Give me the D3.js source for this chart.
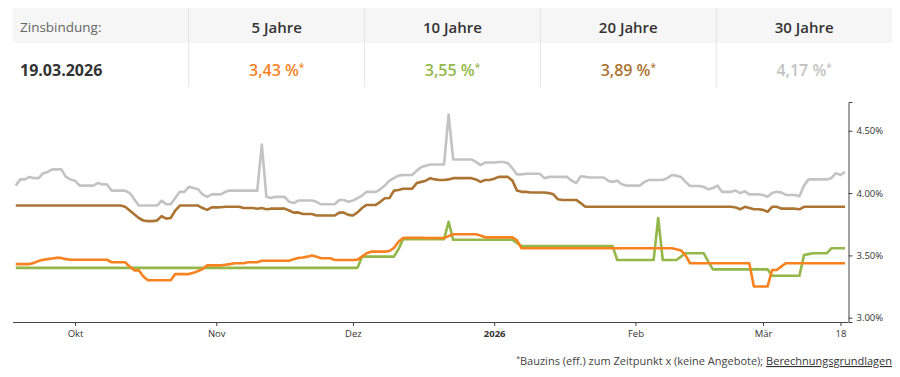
<!DOCTYPE html>
<html>
<head>
<meta charset="utf-8">
<script src="https://cdn.jsdelivr.net/npm/d3@7"></script>
<style>
  body { margin: 0; background: #fff; font-family: "Open Sans", sans-serif; }
</style>
</head>
<body>
<div id="chart"></div>
<script>
// first and last day of the daily series
var startDay = new Date(2025, 8, 18);
var endDay = new Date(2026, 2, 19);

// column headings and current values
var terms = ["5 Jahre", "10 Jahre", "20 Jahre", "30 Jahre"];
var current = ["3,43 %", "3,55 %", "3,89 %", "4,17 %"];
var colors = ["#f7821f", "#93b748", "#ab7433", "#c3c3c3"];

// x ticks
var tickDates = [new Date(2025, 9, 1), new Date(2025, 10, 1), new Date(2025, 11, 1),
                 new Date(2026, 0, 1), new Date(2026, 1, 1), new Date(2026, 2, 1), new Date(2026, 2, 18)];
var tickLabels = ["Okt", "Nov", "Dez", "2026", "Feb", "Mär", "18"];
var yTicks = [3.0, 3.5, 4.0, 4.5];

// daily values, Sep 18 2025 .. Mar 19 2026 (10 per row)
var rate5 = [
  3.43, 3.43, 3.43, 3.43, 3.44, 3.455, 3.465, 3.47, 3.475, 3.48,
  3.48, 3.47, 3.465, 3.465, 3.465, 3.465, 3.465, 3.465, 3.465, 3.465,
  3.465, 3.445, 3.445, 3.445, 3.445, 3.41, 3.38, 3.38, 3.33, 3.30,
  3.30, 3.30, 3.30, 3.30, 3.30, 3.35, 3.35, 3.35, 3.35, 3.36,
  3.375, 3.39, 3.42, 3.42, 3.42, 3.42, 3.425, 3.43, 3.437, 3.437,
  3.437, 3.445, 3.445, 3.445, 3.457, 3.457, 3.457, 3.457, 3.457, 3.457,
  3.457, 3.47, 3.48, 3.483, 3.49, 3.50, 3.49, 3.477, 3.477, 3.477,
  3.463, 3.463, 3.463, 3.463, 3.463, 3.466, 3.49, 3.517, 3.53, 3.53,
  3.53, 3.53, 3.535, 3.56, 3.61, 3.64, 3.642, 3.642, 3.642, 3.642,
  3.64, 3.64, 3.64, 3.64, 3.64, 3.655, 3.67, 3.67, 3.67, 3.67,
  3.67, 3.67, 3.66, 3.645, 3.645, 3.645, 3.645, 3.645, 3.645, 3.645,
  3.62, 3.557, 3.557, 3.557, 3.557, 3.557, 3.557, 3.557, 3.557, 3.557,
  3.557, 3.557, 3.557, 3.557, 3.557, 3.557, 3.557, 3.557, 3.557, 3.557,
  3.557, 3.557, 3.557, 3.557, 3.557, 3.557, 3.557, 3.557, 3.557, 3.557,
  3.557, 3.557, 3.557, 3.557, 3.557, 3.55, 3.54, 3.50, 3.437, 3.437,
  3.437, 3.437, 3.437, 3.437, 3.437, 3.437, 3.437, 3.437, 3.437, 3.437,
  3.437, 3.437, 3.25, 3.25, 3.25, 3.25, 3.383, 3.383, 3.41, 3.437,
  3.437, 3.437, 3.437, 3.437, 3.437, 3.437, 3.437, 3.437, 3.437, 3.437,
  3.437, 3.437, 3.437
];
var rate10 = [
  3.40, 3.40, 3.40, 3.40, 3.40, 3.40, 3.40, 3.40, 3.40, 3.40,
  3.40, 3.40, 3.40, 3.40, 3.40, 3.40, 3.40, 3.40, 3.40, 3.40,
  3.40, 3.40, 3.40, 3.40, 3.40, 3.40, 3.40, 3.40, 3.40, 3.40,
  3.40, 3.40, 3.40, 3.40, 3.40, 3.40, 3.40, 3.40, 3.40, 3.40,
  3.40, 3.40, 3.40, 3.40, 3.40, 3.40, 3.40, 3.40, 3.40, 3.40,
  3.40, 3.40, 3.40, 3.40, 3.40, 3.40, 3.40, 3.40, 3.40, 3.40,
  3.40, 3.40, 3.40, 3.40, 3.40, 3.40, 3.40, 3.40, 3.40, 3.40,
  3.40, 3.40, 3.40, 3.40, 3.40, 3.40, 3.49, 3.49, 3.49, 3.49,
  3.49, 3.49, 3.49, 3.49, 3.55, 3.63, 3.63, 3.63, 3.63, 3.63,
  3.63, 3.63, 3.63, 3.63, 3.63, 3.77, 3.625, 3.625, 3.625, 3.625,
  3.625, 3.625, 3.625, 3.625, 3.625, 3.625, 3.625, 3.625, 3.625, 3.625,
  3.60, 3.575, 3.575, 3.575, 3.575, 3.575, 3.575, 3.575, 3.575, 3.575,
  3.575, 3.575, 3.575, 3.575, 3.575, 3.575, 3.575, 3.575, 3.575, 3.575,
  3.575, 3.575, 3.463, 3.463, 3.463, 3.463, 3.463, 3.463, 3.463, 3.463,
  3.463, 3.80, 3.463, 3.463, 3.463, 3.463, 3.49, 3.517, 3.517, 3.517,
  3.517, 3.517, 3.45, 3.388, 3.388, 3.388, 3.388, 3.388, 3.388, 3.388,
  3.388, 3.388, 3.388, 3.388, 3.388, 3.388, 3.337, 3.337, 3.337, 3.337,
  3.337, 3.337, 3.337, 3.503, 3.51, 3.517, 3.517, 3.517, 3.517, 3.557,
  3.557, 3.557, 3.557
];
var rate20 = [
  3.90, 3.90, 3.90, 3.90, 3.90, 3.90, 3.90, 3.90, 3.90, 3.90,
  3.90, 3.90, 3.90, 3.90, 3.90, 3.90, 3.90, 3.90, 3.90, 3.90,
  3.90, 3.90, 3.90, 3.90, 3.89, 3.86, 3.83, 3.80, 3.78, 3.775,
  3.775, 3.78, 3.815, 3.795, 3.80, 3.86, 3.90, 3.90, 3.90, 3.90,
  3.90, 3.88, 3.865, 3.885, 3.885, 3.886, 3.89, 3.89, 3.89, 3.89,
  3.88, 3.88, 3.88, 3.875, 3.88, 3.87, 3.875, 3.875, 3.875, 3.875,
  3.86, 3.843, 3.845, 3.832, 3.832, 3.832, 3.82, 3.82, 3.82, 3.82,
  3.82, 3.843, 3.843, 3.825, 3.82, 3.845, 3.88, 3.905, 3.905, 3.905,
  3.93, 3.958, 3.96, 4.02, 4.025, 4.035, 4.035, 4.035, 4.08, 4.09,
  4.10, 4.12, 4.11, 4.105, 4.105, 4.11, 4.12, 4.12, 4.12, 4.12,
  4.12, 4.11, 4.09, 4.105, 4.105, 4.115, 4.13, 4.13, 4.13, 4.10,
  4.02, 4.01, 4.01, 4.005, 4.005, 4.005, 4.005, 4.00, 3.99, 3.95,
  3.945, 3.945, 3.945, 3.945, 3.92, 3.89, 3.89, 3.89, 3.89, 3.89,
  3.89, 3.89, 3.89, 3.89, 3.89, 3.89, 3.89, 3.89, 3.89, 3.89,
  3.89, 3.89, 3.89, 3.89, 3.89, 3.89, 3.89, 3.89, 3.89, 3.89,
  3.89, 3.89, 3.89, 3.89, 3.89, 3.89, 3.89, 3.89, 3.885, 3.87,
  3.89, 3.88, 3.87, 3.87, 3.865, 3.85, 3.89, 3.89, 3.875, 3.875,
  3.875, 3.875, 3.87, 3.89, 3.89, 3.89, 3.89, 3.89, 3.89, 3.89,
  3.89, 3.89, 3.89
];
var rate30 = [
  4.06, 4.11, 4.11, 4.13, 4.12, 4.12, 4.16, 4.17, 4.19, 4.19,
  4.19, 4.13, 4.11, 4.10, 4.06, 4.06, 4.06, 4.06, 4.08, 4.07,
  4.07, 4.02, 4.02, 4.02, 4.02, 4.00, 3.95, 3.90, 3.90, 3.90,
  3.90, 3.90, 3.94, 3.91, 3.91, 3.96, 4.01, 4.01, 4.05, 4.04,
  4.03, 3.99, 3.97, 3.99, 3.99, 3.99, 4.01, 4.02, 4.02, 4.02,
  4.02, 4.02, 4.02, 4.02, 4.39, 3.97, 3.96, 3.97, 3.97, 3.97,
  3.93, 3.92, 3.94, 3.94, 3.94, 3.94, 3.93, 3.91, 3.91, 3.91,
  3.91, 3.945, 3.945, 3.93, 3.94, 3.96, 3.98, 4.01, 4.01, 4.01,
  4.03, 4.06, 4.10, 4.12, 4.14, 4.145, 4.145, 4.145, 4.18, 4.21,
  4.22, 4.23, 4.23, 4.23, 4.23, 4.63, 4.27, 4.27, 4.27, 4.27,
  4.27, 4.25, 4.225, 4.245, 4.245, 4.245, 4.25, 4.25, 4.24, 4.20,
  4.15, 4.15, 4.155, 4.155, 4.155, 4.155, 4.12, 4.13, 4.13, 4.13,
  4.13, 4.13, 4.10, 4.08, 4.135, 4.13, 4.125, 4.125, 4.125, 4.125,
  4.10, 4.09, 4.10, 4.07, 4.06, 4.06, 4.06, 4.06, 4.09, 4.105,
  4.105, 4.105, 4.105, 4.12, 4.145, 4.14, 4.13, 4.09, 4.057, 4.057,
  4.057, 4.05, 4.03, 4.04, 4.06, 4.01, 4.01, 4.01, 4.02, 4.00,
  4.015, 3.99, 3.99, 3.99, 3.985, 3.97, 4.00, 4.01, 4.005, 3.985,
  3.985, 3.985, 3.975, 4.06, 4.11, 4.11, 4.11, 4.11, 4.11, 4.12,
  4.16, 4.145, 4.17
];

function init() {
    var w = 900, h = 377;

    var svg = d3.select("#chart")
                .append("svg")
                .attr("width", w)
                .attr("height", h)
                .style("font-family", "'Open Sans', sans-serif");

    // ---- table header ----
    var tableLeft = 13, colW = 175.8;

    svg.append("rect")
        .attr("x", tableLeft).attr("y", 8)
        .attr("width", colW * 5).attr("height", 35)
        .attr("fill", "#f6f6f6");

    for (var i = 1; i < 5; i++) {
        svg.append("line")
            .attr("x1", tableLeft + i * colW).attr("x2", tableLeft + i * colW)
            .attr("y1", 8).attr("y2", 87)
            .attr("stroke", "#e4e4e4").attr("stroke-width", 1);
    }

    svg.append("text")
        .attr("x", 20).attr("y", 32)
        .attr("font-size", 13.5).attr("fill", "#666")
        .text("Zinsbindung:");

    svg.append("text")
        .attr("x", 20).attr("y", 75.5)
        .attr("font-size", 16).attr("font-weight", 700).attr("fill", "#333")
        .text("19.03.2026");

    terms.forEach(function(t, j) {
        var cx = tableLeft + (j + 1.5) * colW;
        svg.append("text")
            .attr("x", cx).attr("y", 32.5)
            .attr("text-anchor", "middle")
            .attr("font-size", 15).attr("font-weight", 600).attr("fill", "#333")
            .text(t);

        var val = svg.append("text")
            .attr("x", cx).attr("y", 75.5)
            .attr("text-anchor", "middle")
            .attr("font-size", 16).attr("font-weight", 600).attr("fill", colors[j]);
        val.append("tspan").text(current[j]);
        val.append("tspan").attr("font-size", 10).attr("dy", -5).text("*");
    });

    // ---- chart ----
    var dates = d3.timeDay.range(startDay, d3.timeDay.offset(endDay, 1));

    var x = d3.scaleTime()
              .domain([startDay, endDay])
              .range([15.8, 845]);

    var y = d3.scaleLinear()
              .domain([2.9655, 4.731])
              .range([322, 102]);

    var line = d3.line()
                 .x(function(d, k) { return x(dates[k]); })
                 .y(function(d) { return y(d); });

    // draw order: 30, 20, 10, 5 years
    var series = [rate30, rate20, rate10, rate5];
    var seriesColors = [colors[3], colors[2], colors[1], colors[0]];

    series.forEach(function(s, k) {
        svg.append("path")
            .datum(s)
            .attr("d", line)
            .attr("fill", "none")
            .attr("stroke", seriesColors[k])
            .attr("stroke-width", 2.6)
            .attr("stroke-linejoin", "round");
    });

    // x axis
    var xAxis = d3.axisBottom(x)
                  .tickValues(tickDates)
                  .tickSize(4)
                  .tickPadding(4)
                  .tickFormat(function(d, k) { return tickLabels[k]; });

    var gx = svg.append("g")
        .attr("transform", "translate(0,322)")
        .call(xAxis);
    gx.select(".domain").remove();
    gx.selectAll(".tick line").attr("stroke", "#444");
    gx.selectAll(".tick text")
        .attr("font-family", "'Open Sans', sans-serif")
        .attr("font-size", 9.5)
        .attr("fill", "#333")
        .attr("font-weight", function(d, k) { return tickLabels[k] === "2026" ? 700 : 400; });

    svg.append("line")
        .attr("x1", 13).attr("x2", 848.5)
        .attr("y1", 322.5).attr("y2", 322.5)
        .attr("stroke", "#444");

    // y axis on the right
    var yAxis = d3.axisRight(y)
                  .tickValues(yTicks)
                  .tickSize(4)
                  .tickPadding(4)
                  .tickFormat(function(d) { return d3.format(".2f")(d) + "%"; });

    var gy = svg.append("g")
        .attr("transform", "translate(848.5,0)")
        .call(yAxis);
    gy.select(".domain").attr("stroke", "#444");
    gy.selectAll(".tick line").attr("stroke", "#444");
    gy.selectAll(".tick text")
        .attr("font-family", "'Open Sans', sans-serif")
        .attr("font-size", 9.5)
        .attr("fill", "#333");

    // ---- footnote ----
    var note = svg.append("text")
        .attr("x", 892).attr("y", 365)
        .attr("text-anchor", "end")
        .attr("font-size", 11).attr("fill", "#444");
    note.append("tspan").attr("font-size", 7).attr("dy", -4).text("*");
    note.append("tspan").attr("dy", 4).text("Bauzins (eff.) zum Zeitpunkt x (keine Angebote); ");
    note.append("tspan").attr("fill", "#333").attr("text-decoration", "underline").text("Berechnungsgrundlagen");
}

window.onload = init;
</script>
</body>
</html>
